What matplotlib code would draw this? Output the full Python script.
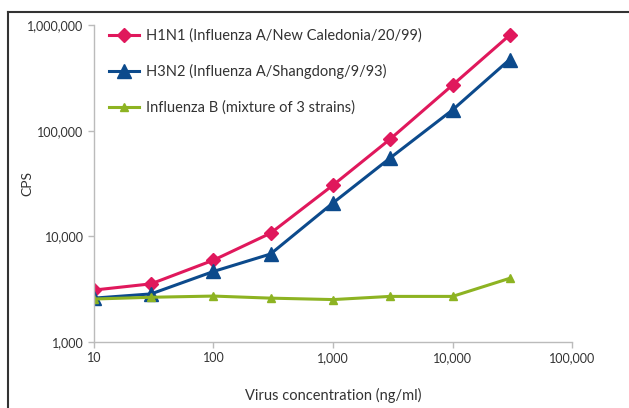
import numpy as np
import matplotlib
matplotlib.use("Agg")
import matplotlib.pyplot as plt
from matplotlib.lines import Line2D
from matplotlib.ticker import FuncFormatter, FixedLocator, NullLocator

# concentrations (ng/ml)
conc = [10, 30, 100, 300, 1000, 3000, 10000, 30000]

# CPS values
h1n1 = [3100, 3550, 5950, 10700, 30500, 83000, 270000, 800000]
h3n2 = [2600, 2850, 4650, 6800, 20700, 55000, 157000, 470000]
flu_b = [2550, 2650, 2720, 2600, 2520, 2700, 2700, 4000]

labels = ["H1N1 (Influenza A/New Caledonia/20/99)",
          "H3N2 (Influenza A/Shangdong/9/93)",
          "Influenza B (mixture of 3 strains)"]
colors = ["#e0185c", "#0c4a8c", "#8db322"]

plt.rcParams['font.family'] = ['Lato', 'DejaVu Sans']
txt = "#333333"

fig = plt.figure(figsize=(6.29, 4.08), dpi=100)
ax = fig.add_axes([0.1494, 0.1618, 0.76, 0.7769])

ax.plot(conc, h1n1, color=colors[0], lw=2.2, marker='D', ms=7, label=labels[0])
ax.plot(conc, h3n2, color=colors[1], lw=2.2, marker='^', ms=9.5, label=labels[1])
ax.plot(conc, flu_b, color=colors[2], lw=2.2, marker='^', ms=6, label=labels[2])

ax.set_xscale('log')
ax.set_yscale('log')
ax.set_xlim(10, 100000)
ax.set_ylim(1000, 1000000)

fmt = FuncFormatter(lambda v, p: f"{int(round(v)):,}")
ax.xaxis.set_major_locator(FixedLocator([10, 100, 1000, 10000, 100000]))
ax.yaxis.set_major_locator(FixedLocator([1000, 10000, 100000, 1000000]))
ax.xaxis.set_minor_locator(NullLocator())
ax.yaxis.set_minor_locator(NullLocator())
ax.xaxis.set_major_formatter(fmt)
ax.yaxis.set_major_formatter(fmt)

for s in ['top', 'right']:
    ax.spines[s].set_visible(False)
for s in ['left', 'bottom']:
    ax.spines[s].set_color('#bbbbbb')
    ax.spines[s].set_linewidth(1)
ax.tick_params(colors='#bbbbbb', labelcolor=txt, labelsize=9, length=4, width=1)
ax.tick_params(axis='x', pad=3)

fig.text(333 / 629, 1 - 395 / 408, "Virus concentration (ng/ml)", color=txt,
         fontsize=10.5, ha='center', va='center')
fig.text(27 / 629, 1 - 184 / 408, "CPS", color=txt, fontsize=10,
         rotation=90, ha='center', va='center')

ax.legend(loc='upper left', bbox_to_anchor=(0.005, 1.03), frameon=False,
          fontsize=10.5, labelcolor=txt, handlelength=2.0, labelspacing=1.45,
          handletextpad=0.5)

# outer frame (left and top edges)
fig.add_artist(Line2D([8 / 629, 8 / 629], [0, 1 - 12 / 408], color='#333333', lw=1.5))
fig.add_artist(Line2D([8 / 629, 1], [1 - 12 / 408, 1 - 12 / 408], color='#333333', lw=1.5))

fig.savefig("out.png", dpi=100)
